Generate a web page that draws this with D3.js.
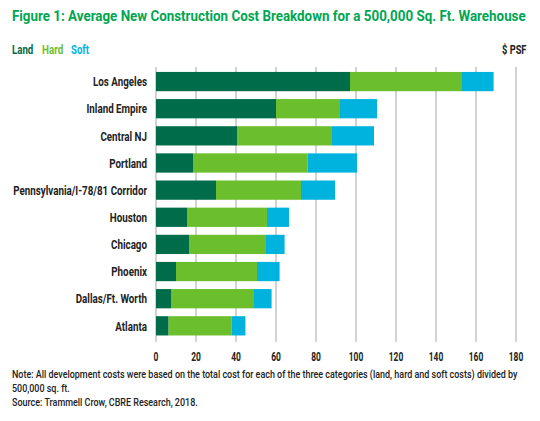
<!DOCTYPE html>
<html><head><meta charset="utf-8">
<script src="https://cdn.jsdelivr.net/npm/d3@7"></script>
<style>
body{margin:0;background:#fff;}
svg text{font-family:Roboto,"DejaVu Sans",sans-serif;}
</style></head>
<body><svg id="c" width="540" height="421"></svg>
<script>
const categories = ["Los Angeles","Inland Empire","Central NJ","Portland","Pennsylvania/I-78/81 Corridor","Houston","Chicago","Phoenix","Dallas/Ft. Worth","Atlanta"];
const land = [97, 60, 40.5, 18.5, 30, 15.5, 16.5, 10, 7.5, 6.3];
const hard = [56, 32, 47.5, 57.3, 42.5, 40, 38.5, 40.5, 41.5, 31.4];
const soft = [15.8, 18.5, 21, 24.7, 17, 11, 9.3, 11.3, 8.8, 7];
const seriesNames = ["Land","Hard","Soft"];
const colors = ["#006c4a","#6cbf2c","#00b3df"];
const ticks = [0,20,40,60,80,100,120,140,160,180];

const svg = d3.select("#c");
const x = d3.scaleLinear().domain([0,180]).range([156,516]);
const y = d3.scaleBand().domain(categories).range([68,339.4]).paddingInner(0.29).paddingOuter(0.145);

// condensed look: place text at local origin, then translate + horizontal scale
function place(sel, px, py, factor){
  sel.attr("x",0).attr("y",0)
     .attr("transform",(d,i)=>`translate(${typeof px==="function"?px(d,i):px},${typeof py==="function"?py(d,i):py}) scale(${factor},1)`);
}
function width(node){ return node.getComputedTextLength(); }

const title = svg.append("text").attr("fill","#00a651")
  .attr("font-size",15.5).attr("font-weight","bold")
  .text("Figure 1: Average New Construction Cost Breakdown for a 500,000 Sq. Ft. Warehouse");
place(title, 12, 20.5, 514/width(title.node()));

// legend
const legX = [12, 42, 71], legW = [21.3, 21.3, 18];
seriesNames.forEach((n,i)=>{
  const t = svg.append("text").attr("font-size",12.5)
    .attr("font-weight","bold").attr("fill",colors[i]).text(n);
  place(t, legX[i], 53.7, legW[i]/width(t.node()));
});
const psf = svg.append("text").attr("font-size",12.5).attr("font-weight","bold").attr("fill","#222").text("$ PSF");
place(psf, 502, 53.7, 24.5/width(psf.node()));

// grid
svg.append("g").selectAll("line").data(ticks).join("line")
  .attr("x1",d=>x(d)).attr("x2",d=>x(d)).attr("y1",67).attr("y2",342)
  .attr("stroke","#b4b4b4").attr("stroke-width",1.2);

const stackData = categories.map((c,i)=>({cat:c, Land:land[i], Hard:hard[i], Soft:soft[i]}));
const stack = d3.stack().keys(seriesNames)(stackData);
svg.append("g").selectAll("g").data(stack).join("g").attr("fill",(d,i)=>colors[i])
  .selectAll("rect").data(d=>d).join("rect")
  .attr("x",d=>x(d[0])).attr("width",d=>x(d[1])-x(d[0]))
  .attr("y",d=>y(d.data.cat)).attr("height",y.bandwidth());

// category labels
const labs = svg.append("g").selectAll("text").data(categories).join("text")
  .attr("dy","0.36em").attr("text-anchor","end").attr("font-size",13)
  .attr("font-weight","bold").attr("fill","#222").text(d=>d);
let refW = 0; labs.each(function(d){ if(d.startsWith("Penn")) refW=width(this); });
place(labs, 147, d=>y(d)+y.bandwidth()/2, 134/refW);

// x axis labels
const tl = svg.append("g").selectAll("text").data(ticks).join("text")
  .attr("text-anchor","middle").attr("font-size",12)
  .attr("font-weight","bold").attr("fill","#222").text(d=>d);
let t180 = 0; tl.each(function(d){ if(d===180) t180=width(this); });
place(tl, d=>x(d), 361, 14.5/t180);

const notes = ["Note: All development costs were based on the total cost for each of the three categories (land, hard and soft costs) divided by",
 "500,000 sq. ft.","Source: Trammell Crow, CBRE Research, 2018."];
const nt = svg.append("g").selectAll("text").data(notes).join("text")
  .attr("font-size",10.5).attr("font-weight",500).attr("fill","#222").text(d=>d);
let n0 = 0; nt.each(function(d,i){ if(i===0) n0=width(this); });
place(nt, 12, (d,i)=>378+i*14, 506/n0);
</script></body></html>
